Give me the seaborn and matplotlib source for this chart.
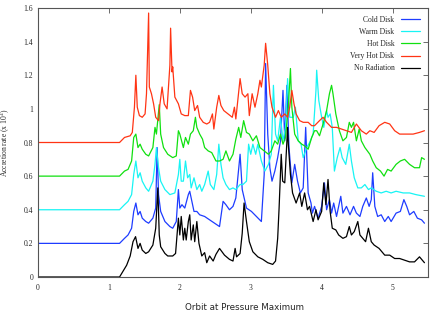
import numpy as np
import pandas as pd
import matplotlib
matplotlib.use("Agg")
import matplotlib.pyplot as plt
import seaborn as sns

# accretion rate curves (orbit, rate x 10^4), offset stacked
black_x = [0, 1.15, 1.25, 1.30, 1.34, 1.376, 1.41, 1.44, 1.47, 1.52, 1.56, 1.62, 1.66, 1.69, 1.71, 1.73,
           1.79, 1.83, 1.90, 1.94, 1.98, 2.0, 2.02, 2.05, 2.07, 2.09, 2.12, 2.14, 2.16, 2.19, 2.21, 2.24,
           2.27, 2.31, 2.35, 2.38, 2.42, 2.47, 2.51, 2.56, 2.63, 2.70, 2.75, 2.78, 2.80, 2.85, 2.88, 2.906,
           2.94, 2.98, 3.03, 3.10, 3.17, 3.24, 3.31, 3.35, 3.38, 3.40, 3.43, 3.45, 3.48, 3.52, 3.53, 3.56,
           3.59, 3.64, 3.69, 3.72, 3.76, 3.80, 3.83, 3.88, 3.92, 3.95, 4.0, 4.03, 4.06, 4.09, 4.12, 4.15,
           4.2, 4.24, 4.30, 4.35, 4.39, 4.42, 4.46, 4.51, 4.54, 4.58, 4.62, 4.66, 4.70, 4.74, 4.81, 4.89,
           4.96, 5.03, 5.10, 5.17, 5.24, 5.31, 5.38, 5.45]
black_y = [0, 0, 0.07, 0.125, 0.21, 0.24, 0.17, 0.2, 0.16, 0.14, 0.15, 0.19, 0.29, 0.53, 0.25, 0.18,
           0.14, 0.125, 0.125, 0.14, 0.35, 0.25, 0.36, 0.22, 0.29, 0.22, 0.33, 0.37, 0.22, 0.31, 0.21, 0.33,
           0.2, 0.125, 0.145, 0.085, 0.125, 0.095, 0.135, 0.17, 0.13, 0.105, 0.095, 0.17, 0.12, 0.14, 0.26, 0.44,
           0.33, 0.21, 0.15, 0.12, 0.105, 0.085, 0.075, 0.095, 0.23, 0.41, 0.73, 0.57, 0.56, 0.89, 0.79, 0.61,
           0.50, 0.44, 0.50, 0.42, 0.50, 0.40, 0.42, 0.33, 0.40, 0.34, 0.39, 0.56, 0.43, 0.58, 0.39, 0.29,
           0.28, 0.25, 0.23, 0.24, 0.30, 0.25, 0.27, 0.33, 0.25, 0.23, 0.21, 0.29, 0.21, 0.19, 0.17, 0.13,
           0.13, 0.11, 0.11, 0.10, 0.09, 0.09, 0.12, 0.085]

cold_x = [0, 1.15, 1.22, 1.27, 1.32, 1.35, 1.38, 1.41, 1.44, 1.47, 1.52, 1.56, 1.62, 1.66, 1.68, 1.70,
          1.73, 1.79, 1.86, 1.9, 1.95, 1.98, 2.0, 2.03, 2.07, 2.12, 2.14, 2.16, 2.20, 2.24, 2.28, 2.35,
          2.42, 2.49, 2.56, 2.61, 2.65, 2.70, 2.75, 2.79, 2.85, 2.88, 2.94, 3.01, 3.08, 3.15, 3.19, 3.21,
          3.24, 3.27, 3.30, 3.34, 3.38, 3.42, 3.455, 3.48, 3.51, 3.54, 3.58, 3.62, 3.66, 3.70, 3.74, 3.775,
          3.81, 3.85, 3.87, 3.90, 3.95, 4.0, 4.04, 4.07, 4.11, 4.14, 4.17, 4.21, 4.27, 4.30, 4.35, 4.40,
          4.45, 4.49, 4.54, 4.58, 4.63, 4.67, 4.70, 4.72, 4.75, 4.79, 4.84, 4.89, 4.94, 4.98, 5.05, 5.11,
          5.16, 5.20, 5.24, 5.30, 5.35, 5.41, 5.45]
cold_y = [0.2, 0.2, 0.23, 0.25, 0.29, 0.39, 0.44, 0.37, 0.39, 0.35, 0.33, 0.32, 0.35, 0.41, 0.77, 0.49,
          0.39, 0.33, 0.30, 0.29, 0.33, 0.52, 0.41, 0.43, 0.41, 0.49, 0.51, 0.47, 0.39, 0.39, 0.37, 0.36,
          0.34, 0.32, 0.30, 0.45, 0.43, 0.40, 0.42, 0.47, 0.73, 0.52, 0.41, 0.39, 0.36, 0.33, 0.61, 1.27,
          0.85, 0.65, 0.57, 0.63, 0.71, 0.81, 1.11, 0.81, 1.14, 0.77, 0.56, 0.67, 0.57, 0.50, 0.53, 0.89,
          0.50, 0.44, 0.38, 0.42, 0.35, 0.42, 0.56, 0.40, 0.46, 0.38, 0.44, 0.36, 0.48, 0.38, 0.42, 0.37,
          0.42, 0.38, 0.36, 0.42, 0.47, 0.42, 0.46, 0.62, 0.42, 0.36, 0.37, 0.33, 0.36, 0.33, 0.38, 0.39,
          0.46, 0.42, 0.37, 0.39, 0.35, 0.34, 0.32]

warm_x = [0, 1.15, 1.22, 1.27, 1.32, 1.35, 1.38, 1.41, 1.44, 1.47, 1.52, 1.56, 1.62, 1.65, 1.67, 1.70,
          1.73, 1.79, 1.86, 1.93, 1.98, 2.0, 2.02, 2.05, 2.08, 2.11, 2.14, 2.16, 2.20, 2.24, 2.28, 2.31,
          2.35, 2.40, 2.43, 2.48, 2.52, 2.55, 2.58, 2.61, 2.65, 2.70, 2.75, 2.79, 2.85, 2.89, 2.94, 2.97,
          3.0, 3.03, 3.07, 3.10, 3.15, 3.20, 3.25, 3.29, 3.32, 3.35, 3.38, 3.42, 3.455, 3.49, 3.52, 3.55,
          3.60, 3.63, 3.67, 3.71, 3.74, 3.79, 3.83, 3.88, 3.92, 3.93, 3.96, 4.0, 4.03, 4.07, 4.09, 4.12,
          4.15, 4.18, 4.22, 4.26, 4.29, 4.34, 4.39, 4.42, 4.46, 4.51, 4.56, 4.61, 4.66, 4.70, 4.77, 4.84,
          4.91, 4.98, 5.05, 5.15, 5.24, 5.33, 5.45]
warm_y = [0.4, 0.4, 0.43, 0.45, 0.49, 0.61, 0.69, 0.59, 0.62, 0.57, 0.53, 0.51, 0.57, 0.67, 0.77, 0.65,
          0.57, 0.52, 0.49, 0.50, 0.61, 0.70, 0.57, 0.57, 0.69, 0.59, 0.61, 0.53, 0.59, 0.52, 0.55, 0.51,
          0.55, 0.63, 0.55, 0.52, 0.61, 0.79, 0.67, 0.59, 0.55, 0.52, 0.53, 0.52, 0.55, 0.55, 0.57, 0.79,
          0.73, 0.79, 0.73, 0.79, 0.69, 0.63, 0.67, 0.73, 1.14, 0.85, 0.81, 0.95, 0.81, 0.89, 1.18, 0.95,
          0.95, 1.01, 0.81, 0.79, 0.71, 0.77, 0.80, 0.85, 1.11, 1.23, 1.05, 0.95, 0.89, 0.99, 0.95, 0.97,
          0.89, 0.63, 0.71, 0.77, 0.71, 0.67, 0.79, 0.69, 0.59, 0.53, 0.53, 0.55, 0.52, 0.53, 0.51, 0.50,
          0.51, 0.50, 0.51, 0.50, 0.50, 0.49, 0.48]

hot_x = [0, 1.15, 1.22, 1.27, 1.32, 1.35, 1.38, 1.41, 1.44, 1.47, 1.52, 1.56, 1.62, 1.65, 1.67, 1.71,
         1.73, 1.77, 1.83, 1.90, 1.95, 1.98, 2.0, 2.05, 2.08, 2.12, 2.15, 2.19, 2.22, 2.24, 2.28, 2.32,
         2.35, 2.40, 2.45, 2.51, 2.56, 2.61, 2.65, 2.70, 2.75, 2.79, 2.83, 2.86, 2.90, 2.94, 2.98, 3.03,
         3.08, 3.13, 3.19, 3.25, 3.29, 3.34, 3.38, 3.42, 3.455, 3.49, 3.53, 3.56, 3.58, 3.62, 3.67, 3.72,
         3.76, 3.81, 3.86, 3.90, 3.93, 3.97, 4.02, 4.07, 4.11, 4.14, 4.16, 4.20, 4.25, 4.30, 4.35, 4.39,
         4.42, 4.45, 4.49, 4.53, 4.56, 4.61, 4.68, 4.72, 4.77, 4.83, 4.88, 4.93, 4.98, 5.05, 5.11, 5.17,
         5.24, 5.31, 5.38, 5.41, 5.45]
hot_y = [0.6, 0.6, 0.63, 0.64, 0.69, 0.83, 0.85, 0.77, 0.79, 0.76, 0.73, 0.72, 0.77, 0.89, 0.85, 1.025,
         0.85, 0.77, 0.73, 0.71, 0.72, 0.87, 0.85, 0.77, 0.83, 0.79, 0.85, 0.87, 0.95, 0.89, 0.85, 0.82,
         0.77, 0.75, 0.74, 0.69, 0.69, 0.70, 0.75, 0.69, 0.73, 0.82, 0.89, 0.83, 0.93, 0.86, 0.85, 0.81,
         0.84, 0.77, 0.75, 0.73, 0.75, 0.81, 0.79, 0.85, 0.79, 0.83, 1.01, 1.24, 1.01, 0.85, 0.81, 0.79,
         0.78, 0.76, 0.83, 0.87, 0.87, 0.84, 0.91, 0.99, 1.09, 1.14, 1.09, 0.97, 0.87, 0.81, 0.83, 0.92,
         0.89, 0.92, 0.81, 0.88, 0.81, 0.77, 0.73, 0.69, 0.65, 0.63, 0.60, 0.64, 0.63, 0.67, 0.69, 0.70,
         0.67, 0.65, 0.65, 0.71, 0.70]

vhot_x = [0, 1.15, 1.22, 1.30, 1.33, 1.36, 1.38, 1.40, 1.43, 1.47, 1.51, 1.53, 1.56, 1.57, 1.60, 1.63,
          1.66, 1.70, 1.72, 1.75, 1.78, 1.82, 1.86, 1.87, 1.89, 1.90, 1.93, 1.98, 2.02, 2.07, 2.12, 2.15,
          2.18, 2.21, 2.25, 2.28, 2.33, 2.38, 2.42, 2.46, 2.48, 2.52, 2.55, 2.58, 2.62, 2.68, 2.74, 2.77,
          2.79, 2.85, 2.88, 2.92, 2.96, 2.98, 3.02, 3.06, 3.10, 3.13, 3.15, 3.19, 3.21, 3.24, 3.27, 3.30,
          3.35, 3.39, 3.43, 3.48, 3.52, 3.55, 3.58, 3.61, 3.64, 3.69, 3.74, 3.81, 3.86, 3.90, 3.97, 4.02,
          4.07, 4.14, 4.21, 4.28, 4.35, 4.42, 4.49, 4.56, 4.63, 4.68, 4.74, 4.81, 4.89, 4.96, 5.03, 5.10,
          5.20, 5.29, 5.38, 5.45]
vhot_y = [0.8, 0.8, 0.83, 0.84, 0.86, 1.01, 1.20, 1.01, 0.96, 0.95, 0.97, 1.09, 1.57, 1.13, 1.09, 1.03,
          0.95, 0.93, 1.03, 1.13, 1.03, 1.00, 1.26, 1.48, 1.22, 1.25, 1.07, 1.03, 0.97, 0.96, 0.96, 1.11,
          1.07, 0.99, 1.02, 0.95, 0.92, 0.91, 0.92, 0.97, 0.88, 1.01, 1.08, 1.02, 0.99, 0.97, 0.95, 1.01,
          0.94, 1.18, 1.09, 1.07, 1.09, 0.96, 1.09, 1.01, 1.09, 1.17, 1.13, 1.26, 1.39, 1.26, 1.09, 1.01,
          0.95, 0.99, 0.95, 0.97, 0.95, 1.01, 1.11, 1.03, 0.97, 0.93, 0.92, 0.92, 0.90, 0.90, 0.93, 0.95,
          0.92, 0.89, 0.89, 0.88, 0.87, 0.86, 0.91, 0.87, 0.85, 0.87, 0.86, 0.90, 0.92, 0.91, 0.87, 0.85,
          0.85, 0.85, 0.86, 0.87]

labels = ["Cold Disk", "Warm Disk", "Hot Disk", "Very Hot Disk", "No Radiation"]
colors = ["#1e3cff", "#18f4f4", "#10e010", "#ff3414", "#000000"]
xs = [cold_x, warm_x, hot_x, vhot_x, black_x]
ys = [cold_y, warm_y, hot_y, vhot_y, black_y]

frames = []
for lab, x, y in zip(labels, xs, ys):
    frames.append(pd.DataFrame({"orbit": x, "rate": y, "run": lab}))
df = pd.concat(frames, ignore_index=True)

sns.set_style("white")
plt.rcParams["font.family"] = ["Liberation Serif", "DejaVu Serif"]
plt.rcParams["mathtext.fontset"] = "stix"

fig = plt.figure(figsize=(4.43, 3.11), dpi=100)
ax = fig.add_axes([38 / 443, 34 / 311, 390 / 443, 269 / 311])

sns.lineplot(data=df, x="orbit", y="rate", hue="run", hue_order=labels,
             palette=dict(zip(labels, colors)), estimator=None, sort=False,
             units="run", linewidth=0.9, ax=ax)

ax.set_xlim(0, 5.5)
ax.set_ylim(0, 1.6)
ax.set_xticks([0, 1, 2, 3, 4, 5])
ax.set_xticklabels(["0", "1", "2", "3", "4", "5"])
ax.set_yticks([0, 0.2, 0.4, 0.6, 0.8, 1.0, 1.2, 1.4, 1.6])
ax.set_yticklabels(["0", "0.2", "0.4", "0.6", "0.8", "1", "1.2", "1.4", "1.6"])
ax.tick_params(direction="in", length=3.5, width=0.6, labelsize=5.5, top=True, right=True,
               color="#555555", pad=3.5)
ax.tick_params(axis="x", pad=5)
for sp in ax.spines.values():
    sp.set_color("#555555")
    sp.set_linewidth(0.8)

ax.set_xlabel("Orbit at Pressure Maximum", fontsize=6.3, family="DejaVu Sans")
ax.xaxis.set_label_coords(0.53, -0.098)
ax.set_ylabel("Accretion rate (x 10$^4$)", fontsize=5.5)
ax.yaxis.set_label_coords(-0.067, 0.5)

leg = ax.legend(loc="upper right", frameon=False, markerfirst=False, fontsize=5.5,
                handlelength=2.6, labelspacing=0.55, borderaxespad=0.6)

fig.savefig("out.png", dpi=100)
